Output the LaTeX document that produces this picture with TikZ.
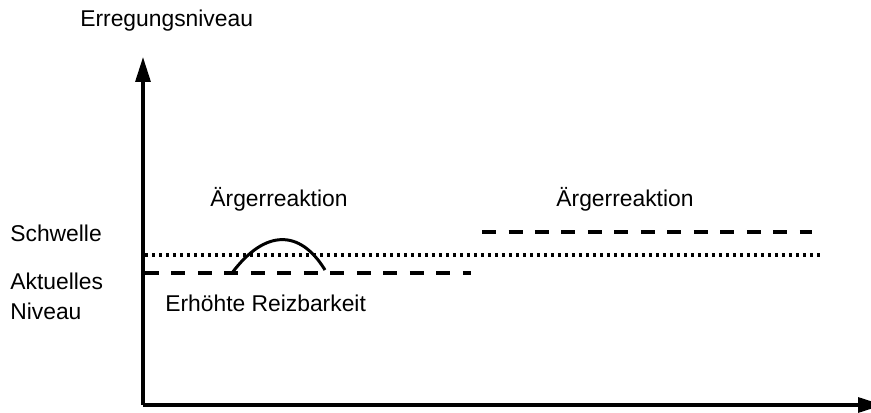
\documentclass[tikz,border=0pt]{standalone}
\usepackage{fontspec}
\setmainfont{Liberation Sans}
\usepackage{tikz}
\usetikzlibrary{arrows.meta}
\tikzset{eaxis/.style={-{Triangle[length=0.5cm,width=0.3cm]},line width=1.8pt}}
\tikzset{elegant/.style={line width=1.7pt}}
\tikzset{schwelle/.style={line width=1.8pt,dash pattern=on 0.06cm off 0.08cm}}
\tikzset{niveau/.style={line width=1.8pt,dash pattern=on 0.28cm off 0.25cm}}
\tikzset{lbl/.style={inner sep=0pt,anchor=base west,font=\fontsize{13}{15.5}\selectfont}}

\begin{document}
\begin{tikzpicture}[x=0.02cm,y=0.02cm]
            \useasboundingbox (0,0) rectangle (871,412);
            % draw the axis
            \coordinate (o) at (143,7);
            \coordinate (ytop) at (143,355);
            \coordinate (xend) at (883,7);
            \draw[eaxis] (o) -- (ytop);
            \draw[eaxis] (o) -- (xend);
            \node[lbl] (ylabel) at (80,385) {Erregungsniveau};
            % draw the levels
            \coordinate (s1) at (145,157);
            \coordinate (s2) at (823,157);
            \coordinate (a1) at (145,139);
            \coordinate (a2) at (471,139);
            \coordinate (b1) at (482,180);
            \coordinate (b2) at (812,180);
            \draw[schwelle] (s1) -- (s2);
            \draw[niveau] (a1) -- (a2);
            \draw[niveau] (b1) -- (b2);
            % draw the reaction
            \coordinate (r1) at (232,139);
            \coordinate (r2) at (325,142);
            \draw[elegant] (r1) .. controls (265,183) and (300,183) .. (r2);
            % labels
            \node[lbl] (schw) at (10,170) {Schwelle};
            \node[lbl] (akt) at (10,122) {Aktuelles};
            \node[lbl] (niv) at (10,92) {Niveau};
            \node[lbl] (reiz) at (165,100) {Erhöhte Reizbarkeit};
            \node[lbl,anchor=base] (aerg1) at (279,205) {Ärgerreaktion};
            \node[lbl,anchor=base] (aerg2) at (625,205) {Ärgerreaktion};
        \end{tikzpicture}
\end{document}
